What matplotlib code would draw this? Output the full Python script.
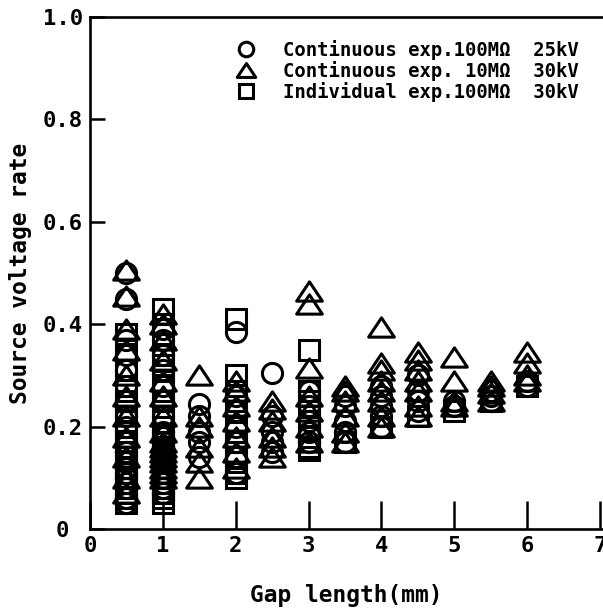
import matplotlib
matplotlib.use("Agg")
import matplotlib.pyplot as plt
from matplotlib.path import Path

# ---- data ----
circ_gap = [0.5]*19 + [1.0]*20 + [1.5]*5 + [2.0]*7 + [2.5]*5 + [3.0]*5 + [3.5]*5 + [4.0]*5 + [4.5]*4 + [5.0]*2 + [5.5]*3 + [6.0]*2
circ_val = [0.50, 0.45, 0.37, 0.34, 0.31, 0.28, 0.25, 0.22, 0.20, 0.17, 0.15, 0.13, 0.12, 0.11, 0.10, 0.09, 0.08, 0.06, 0.05,
            0.39, 0.37, 0.34, 0.31, 0.28, 0.25, 0.22, 0.19, 0.18, 0.17, 0.16, 0.15, 0.14, 0.13, 0.12, 0.11, 0.10, 0.09, 0.08, 0.07,
            0.245, 0.22, 0.19, 0.17, 0.14,
            0.385, 0.26, 0.23, 0.20, 0.17, 0.14, 0.11,
            0.305, 0.22, 0.19, 0.17, 0.15,
            0.27, 0.24, 0.21, 0.19, 0.17,
            0.26, 0.24, 0.21, 0.19, 0.17,
            0.28, 0.26, 0.24, 0.22, 0.20,
            0.30, 0.27, 0.25, 0.23,
            0.25, 0.24,
            0.27, 0.26, 0.25,
            0.29, 0.28]

tri_gap = [0.5]*11 + [1.0]*16 + [1.5]*6 + [2.0]*7 + [2.5]*6 + [3.0]*7 + [3.5]*6 + [4.0]*8 + [4.5]*7 + [5.0]*4 + [5.5]*4 + [6.0]*4
tri_val = [0.505, 0.455, 0.39, 0.35, 0.30, 0.26, 0.22, 0.18, 0.14, 0.10, 0.07,
           0.42, 0.40, 0.37, 0.33, 0.29, 0.26, 0.22, 0.19, 0.17, 0.16, 0.15, 0.14, 0.13, 0.12, 0.11, 0.10,
           0.30, 0.22, 0.20, 0.16, 0.13, 0.10,
           0.29, 0.27, 0.24, 0.21, 0.18, 0.15, 0.12,
           0.25, 0.235, 0.21, 0.18, 0.16, 0.14,
           0.465, 0.44, 0.315, 0.26, 0.23, 0.20, 0.17,
           0.28, 0.27, 0.25, 0.22, 0.19, 0.17,
           0.395, 0.325, 0.31, 0.29, 0.27, 0.25, 0.22, 0.20,
           0.345, 0.33, 0.31, 0.29, 0.27, 0.24, 0.22,
           0.335, 0.29, 0.25, 0.24,
           0.29, 0.28, 0.265, 0.25,
           0.345, 0.325, 0.30, 0.29]

sq_gap = [0.5]*18 + [1.0]*24 + [2.0]*11 + [3.0]*8 + [3.5, 4.0, 4.5, 5.0, 5.5, 6.0]
sq_val = [0.38, 0.35, 0.31, 0.28, 0.25, 0.23, 0.21, 0.19, 0.17, 0.16, 0.14, 0.12, 0.11, 0.10, 0.08, 0.07, 0.06, 0.05,
          0.43, 0.40, 0.38, 0.34, 0.32, 0.29, 0.27, 0.25, 0.22, 0.20, 0.18, 0.17, 0.16, 0.15, 0.14, 0.13, 0.12,
          0.11, 0.10, 0.09, 0.08, 0.07, 0.06, 0.05,
          0.41, 0.30, 0.27, 0.24, 0.21, 0.19, 0.17, 0.15, 0.13, 0.11, 0.10,
          0.35, 0.27, 0.25, 0.22, 0.20, 0.18, 0.16, 0.155,
          0.17, 0.20, 0.22, 0.23, 0.25, 0.28]

labels = ["Continuous exp.100MΩ  25kV",
          "Continuous exp. 10MΩ  30kV",
          "Individual exp.100MΩ  30kV"]

xticks = [0, 1, 2, 3, 4, 5, 6, 7]
yticks = [0, 0.2, 0.4, 0.6, 0.8, 1.0]
yticklabels = ["0 ", "0.2", "0.4", "0.6", "0.8", "1.0"]

# ---- style ----
FONT = "DejaVu Sans Mono"
plt.rcParams["font.family"] = [FONT, "DejaVu Sans"]
plt.rcParams["font.weight"] = "bold"

flat_tri = Path([(0, 0.75), (-1, -0.75), (1, -0.75), (0, 0.75)],
                [Path.MOVETO, Path.LINETO, Path.LINETO, Path.CLOSEPOLY])

fig = plt.figure(figsize=(6.03, 6.14), dpi=100)
ax = fig.add_axes([90/603, 1 - 529/614, 513/603, (529 - 17)/614])

common = dict(linestyle="none", markerfacecolor="none", markeredgecolor="black", markeredgewidth=2.2)
ax.plot(sq_gap, sq_val, marker="s", markersize=14.5, label=labels[2], **common)
ax.plot(circ_gap, circ_val, marker="o", markersize=14.5, label=labels[0], **common)
ax.plot(tri_gap, tri_val, marker=flat_tri, markersize=18.5, label=labels[1], **common)

ax.set_xlim(0, 7.04)
ax.set_ylim(0, 1.0)
ax.set_xticks(xticks)
ax.set_xticklabels([str(t) for t in xticks])
ax.set_yticks(yticks)
ax.set_yticklabels(yticklabels)

ax.tick_params(axis="x", direction="in", length=20, width=1.8, labelsize=16, pad=5)
ax.tick_params(axis="y", direction="in", length=11, width=1.8, labelsize=16, pad=5)
for lab in ax.get_xticklabels() + ax.get_yticklabels():
    lab.set_fontweight("bold")

for s in ["left", "bottom", "top"]:
    ax.spines[s].set_linewidth(1.9)
ax.spines["right"].set_visible(False)

ax.set_xlabel("Gap length(mm)", fontsize=16.5, fontweight="bold", labelpad=20)
ax.set_ylabel("Source voltage rate", fontsize=16.5, fontweight="bold", labelpad=8)

h, l = ax.get_legend_handles_labels()
order = [1, 2, 0]
leg = ax.legend([h[i] for i in order], [l[i] for i in order],
                loc="upper left", bbox_to_anchor=(0.285, 0.955), frameon=False,
                fontsize=13.6, markerscale=0.72, handlelength=1.0, handletextpad=1.5,
                labelspacing=0.05, borderaxespad=0.0, borderpad=0.0)
for t in leg.get_texts():
    t.set_fontweight("bold")

fig.savefig("out.png", dpi=100)
